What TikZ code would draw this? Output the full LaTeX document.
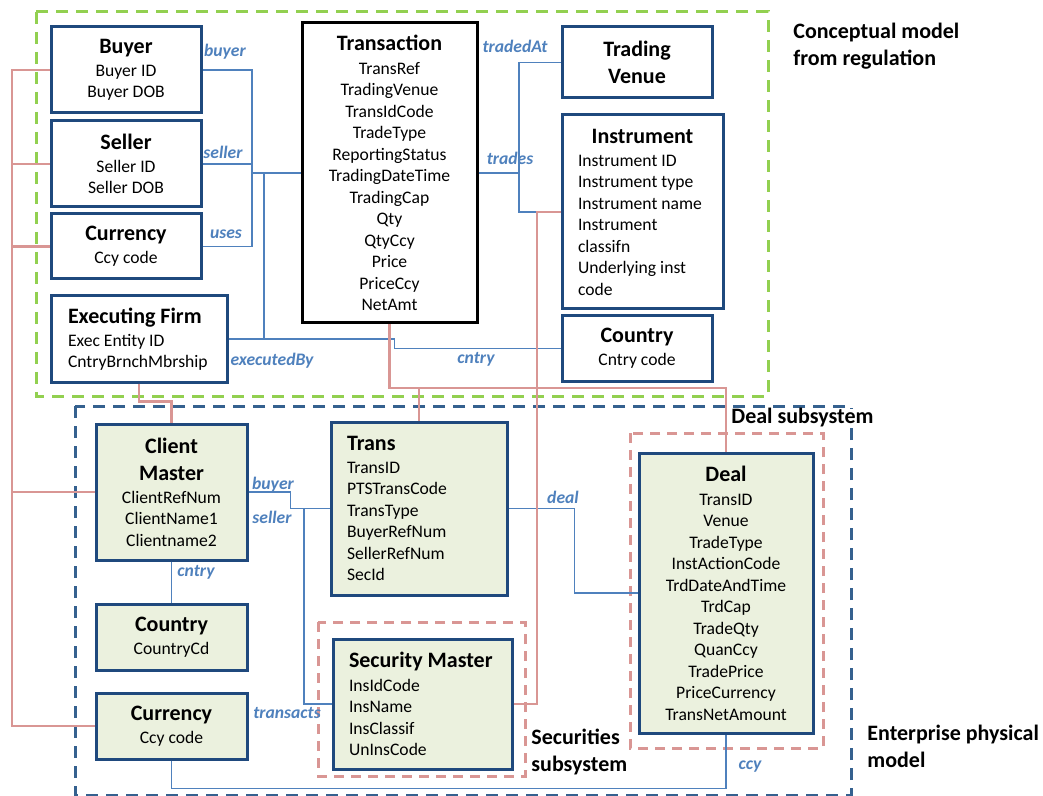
\documentclass[tikz,border=0pt]{standalone}
\usepackage{fontspec}
\setmainfont{Carlito}
\usetikzlibrary{calc}

\definecolor{entblue}{HTML}{1F497D}
\definecolor{physblue}{HTML}{35618F}
\definecolor{relblue}{HTML}{4F81BD}
\definecolor{mappink}{HTML}{D99694}
\definecolor{physfill}{HTML}{EBF1DE}
\definecolor{reggreen}{HTML}{92D050}
\newcommand{\ttl}[1]{{\fontsize{11}{10.75}\selectfont\bfseries #1}}

\begin{document}
\begin{tikzpicture}[x=0.5pt, y=-0.5pt,
	ent/.style={draw=entblue, line width=1.5pt, align=center, inner sep=0pt, font=\fontsize{8.8}{10.75}\selectfont},
	phys/.style={ent, fill=physfill},
	rel/.style={draw=relblue, line width=0.8pt},
	map/.style={draw=mappink, line width=1.4pt},
	lbl/.style={text=relblue, inner sep=0pt, font=\fontsize{8.8}{10}\selectfont\bfseries\itshape},
	zone/.style={line width=1.5pt, dash pattern=on 6pt off 4pt},
	note/.style={anchor=west, align=flush left, inner sep=0pt, font=\fontsize{11}{13.5}\selectfont\bfseries}]
	\fill[white] (0,0) rectangle (1043,796);
	\useasboundingbox (0,0) rectangle (1043,796);

	% frames
	\draw[zone, draw=reggreen] (36,12) rectangle (768,396);
	\draw[zone, draw=physblue] (75,406) rectangle (851,795);
	\draw[zone, draw=mappink, dash pattern=on 5pt off 3.5pt] (318,622) rectangle (525,776);
	\draw[zone, draw=mappink, dash pattern=on 5pt off 3.5pt] (630,433) rectangle (823,748);

	% conceptual model from regulation
	\node[ent, minimum width=75pt, minimum height=43pt] (buyer) at (126,70) {\ttl{Buyer}\\[0.75pt]Buyer ID\\Buyer DOB};
	\node[ent, minimum width=75pt, minimum height=43pt] (seller) at (126,164) {\ttl{Seller}\\[0.75pt]Seller ID\\Seller DOB};
	\node[ent, minimum width=75pt, minimum height=32.5pt] (ccyreg) at (126,246.5) {\ttl{Currency}\\[0.75pt]Ccy code};
	\node[ent, minimum width=88pt, minimum height=43pt, text width=71pt, align=flush left] (execfirm) at (139,339)
	{\ttl{Executing Firm}\\[0.75pt]Exec Entity ID\\CntryBrnchMbrship};
	\node[ent, draw=black, minimum width=87.5pt, minimum height=150pt] (transaction) at (389.5,173)
	{\ttl{Transaction}\\[1.25pt]TransRef\\TradingVenue\\TransIdCode\\TradeType\\ReportingStatus\\TradingDateTime\\TradingCap\\Qty\\QtyCcy\\Price\\PriceCcy\\NetAmt};
	\node[ent, minimum width=75pt, minimum height=35.5pt] (venue) at (637,62.5) {\ttl{Trading}\\[2.75pt]\ttl{Venue}};
	\node[ent, minimum width=80.5pt, minimum height=97pt, text width=64.5pt, align=flush left] (instr) at (642.5,212)
	{\makebox[64.5pt]{\ttl{Instrument}}\\[0.75pt]Instrument ID\\Instrument type\\Instrument name\\Instrument\\classifn\\Underlying inst\\code};
	\node[ent, minimum width=75pt, minimum height=32.5pt] (cntryreg) at (637,348.5) {\ttl{Country}\\[0.75pt]Cntry code};

	% enterprise physical model
	\node[phys, minimum width=75.5pt, minimum height=68pt] (client) at (171.5,492)
	{\ttl{Client}\\[2.75pt]\ttl{Master}\\[0.75pt]ClientRefNum\\ClientName1\\Clientname2};
	\node[phys, minimum width=75.5pt, minimum height=33pt] (country) at (171.5,637) {\ttl{Country}\\[0.75pt]CountryCd};
	\node[phys, minimum width=75.5pt, minimum height=33pt] (currency) at (171.5,726) {\ttl{Currency}\\[0.75pt]Ccy code};
	\node[phys, minimum width=88pt, minimum height=86.5pt, text width=72pt, align=flush left] (trans) at (419,508.5)
	{\ttl{Trans}\\[0.75pt]TransID\\PTSTransCode\\TransType\\BuyerRefNum\\SellerRefNum\\SecId};
	\node[phys, minimum width=89.5pt, minimum height=65pt, text width=73.5pt, align=flush left] (secmaster) at (422.5,704)
	{\ttl{Security Master}\\[1.25pt]InsIdCode\\InsName\\InsClassif\\UnInsCode};
	\node[phys, minimum width=87pt, minimum height=140pt] (deal) at (726,593)
	{\ttl{Deal}\\[1.25pt]TransID\\Venue\\TradeType\\InstActionCode\\TrdDateAndTime\\TrdCap\\TradeQty\\QuanCcy\\TradePrice\\PriceCurrency\\TransNetAmount};

	% relationships
	\coordinate (busL) at (252,173);
	\coordinate (busE) at (264,173);
	\coordinate (busR) at (519,173);
	\coordinate (busS) at (304,508.5);
	\draw[rel] (buyer.east) -| (busL |- ccyreg.east) -- (ccyreg.east);
	\draw[rel] (seller.east) -- (seller.east -| busL);
	\draw[rel] (busL) -- (transaction.west);
	\draw[rel] (busE) |- (execfirm.east);
	\draw[rel] (execfirm.east) -- ++(166,0) |- (cntryreg.west);
	\draw[rel] (transaction.east) -- (busR);
	\draw[rel] (venue.west) -| (busR |- instr.west) -- (instr.west);
	\draw[rel] (client.east) -- ++(42,0) |- (trans.west);
	\draw[rel] (busS) |- (secmaster.west);
	\draw[rel] (client.south) -- (country.north);
	\draw[rel] (trans.east) -- ++(66,0) |- (deal.west);
	\draw[rel] (currency.south) -- ++(0,28) -| (deal.south);

	% mappings
	\coordinate (busP) at (12,0);
	\coordinate (busD) at (0,388);
	\coordinate (busI) at (537,0);
	\draw[map] (buyer.west) -| (busP |- currency.west) -- (currency.west);
	\foreach \n in {seller, ccyreg, client}
		\draw[map] (\n.west) -- (\n.west -| busP);
	\draw[map] (execfirm.south) |- ($(client.north)+(0,-21)$) -- (client.north);
	\draw[map] (transaction.south) |- (deal.north |- busD) -- (deal.north);
	\draw[map] (trans.north) -- (trans.north |- busD);
	\draw[map] (secmaster.east) -| (busI |- instr.west) -- (instr.west);

	% labels
	\node[lbl] (l-buyer) at (225,52) {buyer};
	\node[lbl] (l-seller) at (223,152) {seller};
	\node[lbl] (l-uses) at (226,234) {uses};
	\node[lbl] (l-exec) at (272,361) {executedBy};
	\node[lbl] (l-traded) at (515,46) {tradedAt};
	\node[lbl] (l-trades) at (510,158) {trades};
	\node[lbl] (l-cntry) at (476,359) {cntry};
	\node[lbl] (l-pbuyer) at (273,485) {buyer};
	\node[lbl] (l-pseller) at (272,517) {seller};
	\node[lbl] (l-pcntry) at (196,572) {cntry};
	\node[lbl] (l-transacts) at (287,713) {transacts};
	\node[lbl] (l-deal) at (563,497) {deal};
	\node[lbl] (l-ccy) at (750,767) {ccy};

	\node[note] (concept) at (793,46) {Conceptual model\\from regulation};
	\node[note, fill=white] (dealsub) at (731,418) {Deal subsystem};
	\node[note] (secsub) at (531,752) {Securities\\subsystem};
	\node[note] (enterprise) at (867,746) {Enterprise physical\\model};
\end{tikzpicture}
\end{document}
